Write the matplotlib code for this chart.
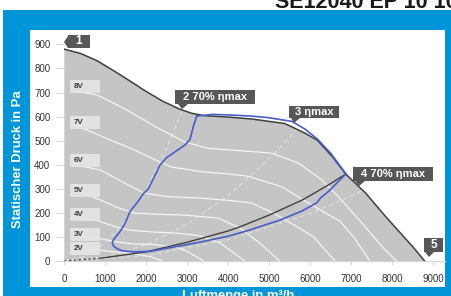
import matplotlib
matplotlib.use("Agg")
import matplotlib.pyplot as plt
from matplotlib.patches import Rectangle, Polygon
from matplotlib.transforms import Affine2D
import numpy as np

plt.rcParams['font.family'] = ['Liberation Sans', 'DejaVu Sans']

# ---------------- data ----------------
x_ticks = [0, 1000, 2000, 3000, 4000, 5000, 6000, 7000, 8000, 9000]
y_ticks = [0, 100, 200, 300, 400, 500, 600, 700, 800, 900]

max_q = [0, 400, 800, 1200, 1600, 2000, 2400, 2800, 3100, 3400, 4000, 4570, 5380,
         5870, 6170, 6540, 6860, 7350, 7840, 8500, 8750, 8790]
max_p = [880, 862, 832, 791, 748, 704, 664, 632, 614, 604, 598, 590, 571,
         531, 502, 433, 362, 282, 184, 59, 8, 0]

sys_q = [0, 900, 2000, 3000, 4000, 4300, 5000, 5800, 6160, 6500, 6870]
sys_p = [0, 12, 38, 78, 125, 143, 191, 253, 288, 322, 362]

eta_q = [3229, 3600, 4000, 4570, 5000, 5550, 5870, 6170, 6500, 6870,
         6700, 6450, 6250, 6160, 5800, 5260, 4450, 4000, 3300, 2800, 2100,
         1700, 1400, 1290, 1200, 1170, 1195, 1358, 1460, 1522, 1600, 1766,
         1930, 2050, 2254, 2334, 2500, 2944, 3066, 3150, 3229]
eta_p = [602, 609, 607, 602, 595, 580, 548, 507, 447, 362,
         333, 290, 262, 242, 208, 170, 125, 103, 78, 62, 40,
         38, 43, 51, 62, 75, 87, 122, 150, 172, 205, 240,
         280, 300, 370, 399, 430, 482, 505, 560, 602]

speed_labels = ['8V', '7V', '6V', '5V', '4V', '3V', '2V']
speed_label_p = [724, 575, 417, 291, 194, 112, 53]
speed_q = [
    [300, 800, 1500, 2200, 2930, 3500, 4080, 4700, 5060, 5720, 6290, 6780, 7300, 7750, 8100],
    [300, 557, 1130, 1540, 2100, 2600, 3340, 4000, 4490, 5310, 5960, 6725, 7100, 7450],
    [300, 885, 1400, 1950, 2500, 3340, 4000, 4570, 5100, 5600, 6075, 6600],
    [300, 885, 1300, 1700, 2300, 2925, 3760, 4300, 4800, 5250],
    [300, 800, 1200, 1600, 2200, 2800, 3300, 3800, 4400],
    [300, 800, 1200, 1600, 2200, 2700, 3000, 3400],
    [300, 800, 1200, 1700, 2100, 2400],
]
speed_p = [
    [705, 690, 630, 560, 495, 468, 461, 453, 448, 406, 336, 250, 150, 60, 0],
    [555, 544, 502, 474, 430, 391, 371, 362, 352, 308, 240, 165, 90, 0],
    [398, 378, 330, 282, 268, 261, 252, 241, 199, 150, 101, 0],
    [292, 253, 222, 199, 194, 191, 178, 135, 70, 0],
    [182, 168, 145, 128, 120, 115, 105, 75, 0],
    [105, 96, 82, 72, 68, 58, 40, 0],
    [50, 46, 38, 30, 18, 0],
]

# faint dashed system parabolas
dash_q = [
    [0, 500, 1000, 1500, 2000, 2500, 3000],
    [0, 1000, 2000, 3000, 4000, 5000, 5500, 6000],
    [0, 2000, 4000, 6000, 7000, 8000],
]
dash_p = [
    [0, 19, 75, 169, 300, 469, 675],
    [0, 17, 68, 153, 272, 425, 514, 612],
    [0, 22, 88, 198, 270, 352],
]

title = "SE12040 EP 10 10"
xlabel = "Luftmenge in m³/h"
ylabel = "Statischer Druck in Pa"

# ---------------- figure ----------------
W, H = 452, 296
fig = plt.figure(figsize=(W / 100, H / 100), dpi=100)
fig.patch.set_facecolor('white')
pxT = Affine2D().scale(1 / W, -1 / H).translate(0, 1) + fig.transFigure

blue = '#0095d9'
fig.patches.append(Rectangle((3, 10), W - 3, H - 10, transform=pxT,
                             facecolor=blue, edgecolor='none', zorder=0))
fig.patches.append(Rectangle((30, 30), 415, 257, transform=pxT,
                             facecolor='white', edgecolor='none', zorder=0.5))

fig.text(275 / W, 1 - 8 / H, title, fontsize=15.5, fontweight='bold',
         color='#1a1a1a', ha='left', va='baseline')
fig.text(18.5 / W, 1 - 159 / H, ylabel, rotation=90, fontsize=9.4,
         fontweight='bold', color='white', ha='center', va='center')
fig.text(238 / W, 1 - 289.5 / H, xlabel, fontsize=9.4, fontweight='bold',
         color='white', ha='center', va='top')

# axes: x 0 at px 64.3, 41.0 px / 1000 ; y 0 at px 261, 24.07 px / 100
x0px, y0px = 64.3, 261.0
xr, yr = 445.0, 30.0
ax = fig.add_axes([x0px / W, (H - y0px) / H, (xr - x0px) / W, (y0px - yr) / H])
ax.set_zorder(2)
ax.set_facecolor('none')
ax.set_xlim(0, (xr - x0px) / 41.0 * 1000)
ax.set_ylim(0, (y0px - yr) / 24.07 * 100)
for s in ['top', 'right', 'left']:
    ax.spines[s].set_visible(False)
ax.spines['bottom'].set_color('#d4d4d4')
ax.spines['bottom'].set_linewidth(0.8)

ax.set_xticks(x_ticks)
ax.set_yticks(y_ticks)
ax.tick_params(axis='x', length=3, width=0.6, color='#cccccc', pad=6,
               labelsize=7, labelcolor='#333333')
ax.tick_params(axis='y', length=6, width=0.6, color='#cccccc', pad=4,
               labelsize=7, labelcolor='#333333')

# grey envelope
grey = ax.fill(np.r_[max_q, 0], np.r_[max_p, 0], color='#c5c5c5', lw=0, zorder=1)[0]

# dashed parabolas
for q, p in zip(dash_q, dash_p):
    ln, = ax.plot(q, p, color='white', lw=0.8, alpha=0.45, ls=(0, (4, 3)), zorder=2)
    ln.set_clip_path(grey)

# speed curves
for q, p in zip(speed_q, speed_p):
    ln, = ax.plot(q, p, color='#f4f4f4', lw=0.9, zorder=3)
    ln.set_clip_path(grey)

# speed labels
for lab, p in zip(speed_labels, speed_label_p):
    ax.add_patch(Rectangle((150, p - 27), 720, 54, facecolor='#e6e6e6',
                           edgecolor='none', alpha=0.9, zorder=4))
    ax.text(240, p, lab, fontsize=5.8, fontweight='bold', color='#3a3a3a',
            ha='left', va='center', zorder=5)

# max curve and system curve
ax.plot(max_q, max_p, color='#404040', lw=1.1, zorder=6)
ax.plot(sys_q[:2], sys_p[:2], color='#404040', lw=1.0, ls=(0, (1.5, 2)), zorder=6)
ax.plot(sys_q[1:], sys_p[1:], color='#404040', lw=1.0, zorder=6)

# 70% eta envelope
ax.plot(eta_q, eta_p, color='#4a5cc8', lw=1.2, zorder=7)

# annotation tags (pixel layout)
tag_col = '#575757'
def tag(x0, y0, x1, y1, tri, text, fs=8):
    fig.patches.append(Rectangle((x0, y0), x1 - x0, y1 - y0, transform=pxT,
                                 facecolor=tag_col, edgecolor='none', zorder=10))
    fig.patches.append(Polygon(tri, closed=True, transform=pxT,
                               facecolor=tag_col, edgecolor='none', zorder=10))
    fig.text((x0 + x1) / 2 / W, 1 - (y0 + y1) / 2 / H, text, color='white',
             fontsize=fs, fontweight='bold', ha='center', va='center', zorder=11)

tag(68, 35, 90, 48, [(68, 36), (64, 42), (68, 48)], '1', 8.5)
tag(175, 90, 255, 104, [(178, 104), (188, 104), (182, 109)], '2 70% ηmax')
tag(289, 106, 339, 118, [(291, 118), (300, 118), (294, 123)], '3 ηmax')
tag(353, 167, 433, 181, [(355, 181), (365, 181), (359, 186)], '4 70% ηmax')
tag(424, 238, 443, 252, [(425, 252), (434, 252), (429, 257)], '5', 8.5)

fig.savefig('out.png', dpi=100, facecolor='white')
